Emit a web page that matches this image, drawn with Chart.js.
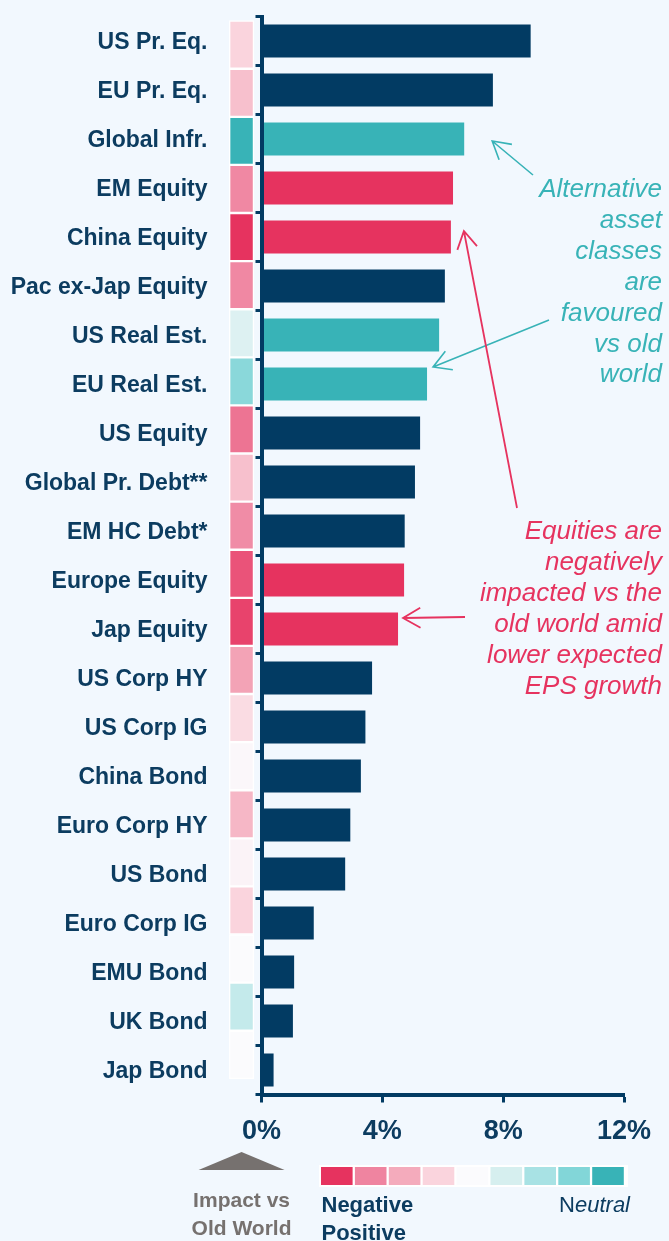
<!DOCTYPE html>
<html>
<head>
<meta charset="utf-8">
<script src="https://cdn.jsdelivr.net/npm/chart.js@4.4.1/dist/chart.umd.min.js"></script>
<style>
  html, body { margin: 0; padding: 0; background: #f2f8fe; }
  #wrap { width: 669px; height: 1241px; }
</style>
</head>
<body>
<div id="wrap"><canvas id="chart" width="669" height="1241"></canvas></div>
<script>
// data
var categories = ['US Pr. Eq.', 'EU Pr. Eq.', 'Global Infr.', 'EM Equity', 'China Equity',
  'Pac ex-Jap Equity', 'US Real Est.', 'EU Real Est.', 'US Equity', 'Global Pr. Debt**',
  'EM HC Debt*', 'Europe Equity', 'Jap Equity', 'US Corp HY', 'US Corp IG', 'China Bond',
  'Euro Corp HY', 'US Bond', 'Euro Corp IG', 'EMU Bond', 'UK Bond', 'Jap Bond'];
var expectedReturns = [8.91, 7.66, 6.71, 6.34, 6.27, 6.07, 5.88, 5.48, 5.25, 5.08, 4.74,
  4.72, 4.52, 3.66, 3.44, 3.29, 2.94, 2.77, 1.73, 1.08, 1.04, 0.40];
var assetGroup = ['core', 'core', 'alt', 'equity', 'equity', 'core', 'alt', 'alt', 'core',
  'core', 'core', 'equity', 'equity', 'core', 'core', 'core', 'core', 'core', 'core',
  'core', 'core', 'core'];
// impact vs old world, -4 (negative) .. 0 .. +4
var impactScore = [-1, -1.5, 4, -2.9, -4, -2.9, 0.8, 2.8, -3.2, -1.5, -2.8, -3.6, -3.8,
  -2.2, -0.8, -0.1, -1.7, -0.2, -1, 0, 1.4, 0];
var xTickValues = [0, 4, 8, 12];
var altNote = ['Alternative', 'asset', 'classes', 'are', 'favoured', 'vs old', 'world'];
var eqNote = ['Equities are', 'negatively', 'impacted vs the', 'old world amid',
  'lower expected', 'EPS growth'];

var NAVY = '#023b63';
var TEXT = '#0c3c60';
var TEAL = '#38b3b7';
var RED = '#e6335f';
var BG = '#f2f8fe';
var groupColor = { core: NAVY, alt: TEAL, equity: RED };
var scaleColors = ['#e6335f', '#ef84a0', '#f4abbc', '#fad4dd', '#fbfbfd',
  '#d6efef', '#a8e2e4', '#82d6d8', '#38b3b7'];
var FONT = '"Liberation Sans", Arial, sans-serif';

function hexRgb(h) {
  return [parseInt(h.substr(1, 2), 16), parseInt(h.substr(3, 2), 16), parseInt(h.substr(5, 2), 16)];
}
function impactColor(v) {
  var t = v + 4;
  var i = Math.min(Math.floor(t), 7);
  var f = t - i;
  var a = hexRgb(scaleColors[i]), b = hexRgb(scaleColors[i + 1]);
  var c = a.map(function (x, k) { return Math.round(x + (b[k] - x) * f); });
  return 'rgb(' + c.join(',') + ')';
}

function arrow(ctx, tail, tip, color, width) {
  var ang = Math.atan2(tail[1] - tip[1], tail[0] - tip[0]);
  var arm = 20, spread = Math.PI / 6;
  ctx.save();
  ctx.strokeStyle = color;
  ctx.lineWidth = width;
  ctx.beginPath();
  ctx.moveTo(tail[0], tail[1]);
  ctx.lineTo(tip[0], tip[1]);
  ctx.moveTo(tip[0] + arm * Math.cos(ang - spread), tip[1] + arm * Math.sin(ang - spread));
  ctx.lineTo(tip[0], tip[1]);
  ctx.lineTo(tip[0] + arm * Math.cos(ang + spread), tip[1] + arm * Math.sin(ang + spread));
  ctx.stroke();
  ctx.restore();
}

var background = {
  id: 'background',
  beforeDraw: function (chart) {
    var ctx = chart.ctx;
    ctx.save();
    ctx.fillStyle = BG;
    ctx.fillRect(0, 0, chart.width, chart.height);
    ctx.restore();
  }
};

var notes = {
  id: 'notes',
  afterDraw: function (chart) {
    var ctx = chart.ctx, x = chart.scales.x, y = chart.scales.y;
    ctx.save();
    ctx.textAlign = 'right';
    ctx.textBaseline = 'alphabetic';
    ctx.font = 'italic 26px ' + FONT;
    ctx.fillStyle = TEAL;
    altNote.forEach(function (t, i) { ctx.fillText(t, 662, 197 + i * 30.9); });
    ctx.fillStyle = RED;
    eqNote.forEach(function (t, i) { ctx.fillText(t, 662, 539 + i * 30.9); });
    ctx.restore();

    function tip(i, dx, dy) {
      return [x.getPixelForValue(expectedReturns[i]) + dx, y.getPixelForValue(i) + dy];
    }
    arrow(ctx, [533, 175], tip(2, 28, 2), TEAL, 1.6);
    arrow(ctx, [549, 320], tip(7, 6, -17), TEAL, 1.6);
    arrow(ctx, [517, 508], tip(4, 13, -6), RED, 1.8);
    arrow(ctx, [465, 617], tip(12, 5, -11), RED, 1.8);

    // impact legend
    var cx = x.getPixelForValue(-0.66);
    ctx.save();
    ctx.fillStyle = '#76716f';
    ctx.beginPath();
    ctx.moveTo(cx, 1152);
    ctx.lineTo(cx + 43, 1170);
    ctx.lineTo(cx - 43, 1170);
    ctx.closePath();
    ctx.fill();
    ctx.font = 'bold 21px ' + FONT;
    ctx.textAlign = 'center';
    ctx.fillText('Impact vs', cx, 1207);
    ctx.fillText('Old World', cx, 1235);

    ctx.fillStyle = '#ffffff';
    ctx.fillRect(319, 1165, 309, 22);
    scaleColors.forEach(function (c, k) {
      ctx.fillStyle = c;
      ctx.fillRect(321 + k * 33.9, 1167, 31.6, 18);
    });
    ctx.fillStyle = TEXT;
    ctx.textAlign = 'left';
    ctx.font = 'bold 22px ' + FONT;
    ctx.fillText('Negative', 321.5, 1212);
    ctx.fillText('Positive', 321.5, 1240);
    ctx.textAlign = 'right';
    ctx.font = 'italic 22px ' + FONT;
    var w = ctx.measureText('eutral').width;
    ctx.fillText('eutral', 630, 1212);
    ctx.font = '22px ' + FONT;
    ctx.fillText('N', 630 - w, 1212);
    ctx.restore();
  }
};

var heatData = categories.map(function (c, i) { return { x: [-1.07, -0.25], y: i }; });

new Chart(document.getElementById('chart'), {
  type: 'bar',
  data: {
    labels: categories,
    datasets: [{
      label: 'Impact',
      data: heatData,
      yAxisID: 'yh',
      grouped: false,
      backgroundColor: impactScore.map(impactColor),
      borderColor: '#ffffff',
      borderWidth: 1.5,
      borderSkipped: false,
      barPercentage: 1,
      categoryPercentage: 1,
      clip: false
    }, {
      label: 'Expected return',
      data: expectedReturns,
      yAxisID: 'y',
      grouped: false,
      backgroundColor: assetGroup.map(function (g) { return groupColor[g]; }),
      borderWidth: 0,
      barPercentage: 0.673,
      categoryPercentage: 1
    }]
  },
  options: {
    indexAxis: 'y',
    responsive: false,
    animation: false,
    devicePixelRatio: 1,
    layout: { padding: { top: 16.5, right: 45, left: 0, bottom: 0 } },
    plugins: { legend: { display: false }, tooltip: { enabled: false } },
    scales: {
      x: {
        type: 'linear',
        min: 0,
        max: 12,
        afterBuildTicks: function (s) { s.ticks = xTickValues.map(function (v) { return { value: v }; }); },
        afterFit: function (s) { s.height = 146.5; s.paddingLeft = 0; s.paddingRight = 0; },
        grid: { drawOnChartArea: false, tickLength: 8, tickWidth: 3, tickColor: NAVY, color: NAVY },
        border: { color: NAVY, width: 4, z: 1 },
        ticks: {
          padding: 13,
          color: TEXT,
          font: { family: FONT, size: 27, weight: 'bold' },
          callback: function (v) { return v + '%'; }
        }
      },
      y: {
        type: 'category',
        offset: true,
        afterFit: function (s) { s.width = 261.5; s.paddingTop = 0; s.paddingBottom = 0; },
        grid: { drawOnChartArea: false, offset: true, tickLength: 6, tickWidth: 3, tickColor: NAVY, color: NAVY },
        border: { color: NAVY, width: 4, z: 1 },
        ticks: {
          padding: 48,
          labelOffset: 2,
          color: TEXT,
          autoSkip: false,
          font: { family: FONT, size: 23, weight: 'bold' }
        }
      },
      // the impact strip is spaced a little tighter than the bars
      yh: {
        type: 'linear',
        display: false,
        reverse: true,
        offset: false,
        bounds: 'data',
        min: -0.586,
        max: 21.826,
        grid: { offset: false },
        afterBuildTicks: function (s) { s.ticks = categories.map(function (c, i) { return { value: i }; }); }
      }
    }
  },
  plugins: [background, notes]
});
</script>
</body>
</html>
